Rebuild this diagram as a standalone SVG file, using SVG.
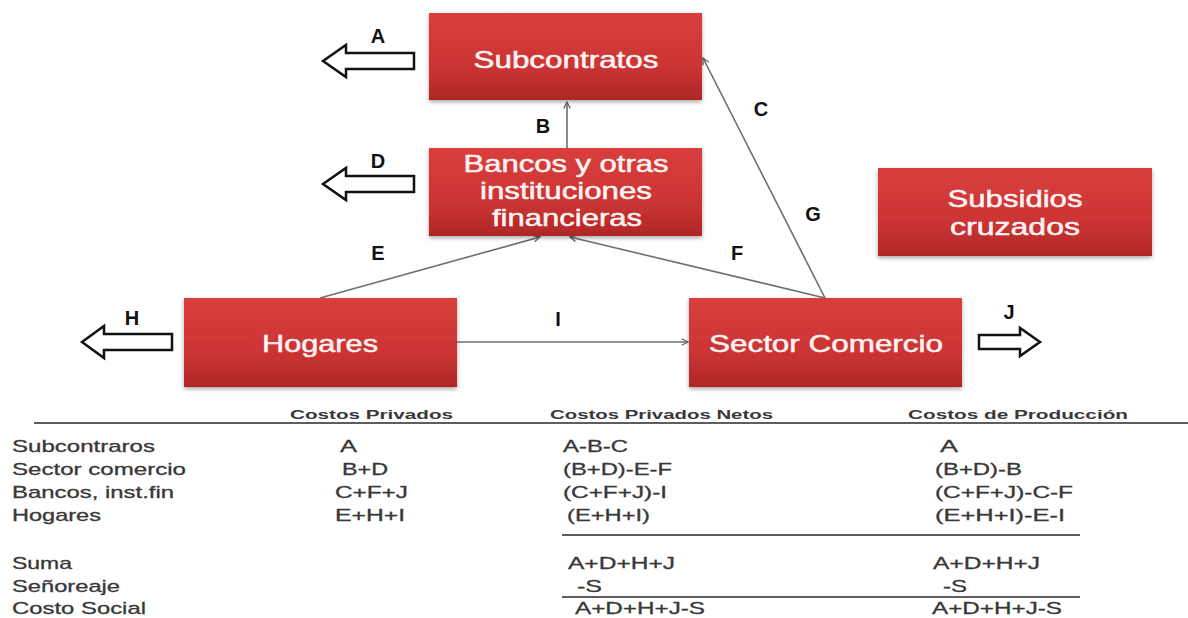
<svg xmlns="http://www.w3.org/2000/svg" width="1188" height="618" viewBox="0 0 1188 618">
<defs>
<linearGradient id="red" x1="0" y1="0" x2="0" y2="1">
<stop offset="0" stop-color="#d83f3e"/>
<stop offset="0.6" stop-color="#cc3434"/>
<stop offset="1" stop-color="#b02726"/>
</linearGradient>
<filter id="sh" x="-10%" y="-10%" width="120%" height="130%">
<feGaussianBlur in="SourceAlpha" stdDeviation="2"/>
<feOffset dx="0" dy="2" result="b"/>
<feComponentTransfer><feFuncA type="linear" slope="0.35"/></feComponentTransfer>
<feMerge><feMergeNode/><feMergeNode in="SourceGraphic"/></feMerge>
</filter>
<marker id="ah" viewBox="0 0 10 10" refX="9" refY="5" markerWidth="8" markerHeight="8" orient="auto" markerUnits="userSpaceOnUse">
<path d="M1,1 L9,5 L1,9" fill="none" stroke="#666" stroke-width="1.6"/>
</marker>
</defs>
<style>
.box{fill:url(#red);filter:url(#sh)}
.bt{font-family:"Liberation Sans",Arial,sans-serif;font-size:24px;fill:#fff3f2;stroke:#fff3f2;stroke-width:0.5;text-anchor:middle}
.lbl{font-family:"Liberation Sans",Arial,sans-serif;font-size:20px;font-weight:bold;fill:#111}
.conn{stroke:#6e6e6e;stroke-width:1.6;fill:none;marker-end:url(#ah)}
.big{fill:#fff;stroke:#111;stroke-width:2.5;stroke-linejoin:miter}
.t{font-family:"Liberation Sans",Arial,sans-serif;font-size:17px;fill:#383838;stroke:#383838;stroke-width:0.3}
.h{font-family:"Liberation Sans",Arial,sans-serif;font-size:13px;font-weight:bold;fill:#383838}
.rule{stroke:#5e5e5e;stroke-width:2}
</style>
<rect width="1188" height="618" fill="#fff"/>

<g id="connectors">
<line class="conn" x1="567" y1="148" x2="567" y2="102"/>
<line class="conn" x1="320" y1="298" x2="540" y2="237"/>
<line class="conn" x1="825" y1="298" x2="570" y2="237"/>
<line class="conn" x1="825" y1="298" x2="703" y2="58"/>
<line class="conn" x1="457" y1="342" x2="688" y2="342"/>
</g>

<g id="outflows">
<polygon class="big" points="323,61 346,45 346,53 414,53 414,69 346,69 346,77"/>
<polygon class="big" points="323,184 346,168 346,176 414,176 414,192 346,192 346,200"/>
<polygon class="big" points="82,342 104,326 104,334 172,334 172,350 104,350 104,358"/>
<polygon class="big" points="1040,342 1020,328 1020,335 979,335 979,349 1020,349 1020,356"/>
</g>

<g id="labels">
<text class="lbl" x="378" y="43" text-anchor="middle">A</text>
<text class="lbl" x="543" y="133" text-anchor="middle">B</text>
<text class="lbl" x="761" y="116" text-anchor="middle">C</text>
<text class="lbl" x="378" y="168" text-anchor="middle">D</text>
<text class="lbl" x="378" y="260" text-anchor="middle">E</text>
<text class="lbl" x="737" y="260" text-anchor="middle">F</text>
<text class="lbl" x="813" y="221" text-anchor="middle">G</text>
<text class="lbl" x="132" y="325" text-anchor="middle">H</text>
<text class="lbl" x="558" y="326" text-anchor="middle">I</text>
<text class="lbl" x="1009" y="319" text-anchor="middle">J</text>
</g>

<g id="subcontratos">
<rect class="box" x="429" y="13" width="273" height="87"/>
<text class="bt" x="566" y="68" textLength="185" lengthAdjust="spacingAndGlyphs">Subcontratos</text>
</g>
<g id="bancos">
<rect class="box" x="429" y="148" width="273" height="88"/>
<text class="bt" x="566" y="172" textLength="205" lengthAdjust="spacingAndGlyphs">Bancos y otras</text>
<text class="bt" x="566" y="199" textLength="172" lengthAdjust="spacingAndGlyphs">instituciones</text>
<text class="bt" x="567" y="226" textLength="150" lengthAdjust="spacingAndGlyphs">financieras</text>
</g>
<g id="subsidios">
<rect class="box" x="878" y="168" width="274" height="88"/>
<text class="bt" x="1015" y="207" textLength="135" lengthAdjust="spacingAndGlyphs">Subsidios</text>
<text class="bt" x="1015" y="235" textLength="130" lengthAdjust="spacingAndGlyphs">cruzados</text>
</g>
<g id="hogares">
<rect class="box" x="184" y="298" width="273" height="89"/>
<text class="bt" x="320" y="352" textLength="116" lengthAdjust="spacingAndGlyphs">Hogares</text>
</g>
<g id="sector-comercio">
<rect class="box" x="689" y="298" width="273" height="89"/>
<text class="bt" x="826" y="352" textLength="234" lengthAdjust="spacingAndGlyphs">Sector Comercio</text>
</g>

<g id="table">
<line class="rule" x1="34" y1="423" x2="1188" y2="423"/>
<line class="rule" x1="562" y1="535" x2="1080" y2="535"/>
<line class="rule" x1="562" y1="597" x2="1080" y2="597"/>
<text class="h" x="290" y="419" textLength="163" lengthAdjust="spacingAndGlyphs">Costos Privados</text>
<text class="h" x="550" y="419" textLength="223" lengthAdjust="spacingAndGlyphs">Costos Privados Netos</text>
<text class="h" x="908" y="419" textLength="220" lengthAdjust="spacingAndGlyphs">Costos de Producción</text>

<text class="t" x="12" y="452" textLength="143" lengthAdjust="spacingAndGlyphs">Subcontraros</text>
<text class="t" x="12" y="475" textLength="174" lengthAdjust="spacingAndGlyphs">Sector comercio</text>
<text class="t" x="12" y="498" textLength="162" lengthAdjust="spacingAndGlyphs">Bancos, inst.fin</text>
<text class="t" x="12" y="521" textLength="89" lengthAdjust="spacingAndGlyphs">Hogares</text>
<text class="t" x="12" y="569" textLength="60" lengthAdjust="spacingAndGlyphs">Suma</text>
<text class="t" x="12" y="592" textLength="108" lengthAdjust="spacingAndGlyphs">Señoreaje</text>
<text class="t" x="12" y="614" textLength="134" lengthAdjust="spacingAndGlyphs">Costo Social</text>

<text class="t" x="340" y="452" textLength="17" lengthAdjust="spacingAndGlyphs">A</text>
<text class="t" x="342" y="475" textLength="46" lengthAdjust="spacingAndGlyphs">B+D</text>
<text class="t" x="335" y="498" textLength="73" lengthAdjust="spacingAndGlyphs">C+F+J</text>
<text class="t" x="335" y="521" textLength="70" lengthAdjust="spacingAndGlyphs">E+H+I</text>

<text class="t" x="563" y="452" textLength="65" lengthAdjust="spacingAndGlyphs">A-B-C</text>
<text class="t" x="563" y="475" textLength="109" lengthAdjust="spacingAndGlyphs">(B+D)-E-F</text>
<text class="t" x="563" y="498" textLength="104" lengthAdjust="spacingAndGlyphs">(C+F+J)-I</text>
<text class="t" x="567" y="521" textLength="83" lengthAdjust="spacingAndGlyphs">(E+H+I)</text>
<text class="t" x="568" y="569" textLength="107" lengthAdjust="spacingAndGlyphs">A+D+H+J</text>
<text class="t" x="577" y="592" textLength="25" lengthAdjust="spacingAndGlyphs">-S</text>
<text class="t" x="575" y="614" textLength="130" lengthAdjust="spacingAndGlyphs">A+D+H+J-S</text>

<text class="t" x="940" y="452" textLength="18" lengthAdjust="spacingAndGlyphs">A</text>
<text class="t" x="935" y="475" textLength="87" lengthAdjust="spacingAndGlyphs">(B+D)-B</text>
<text class="t" x="935" y="498" textLength="138" lengthAdjust="spacingAndGlyphs">(C+F+J)-C-F</text>
<text class="t" x="935" y="521" textLength="130" lengthAdjust="spacingAndGlyphs">(E+H+I)-E-I</text>
<text class="t" x="933" y="569" textLength="107" lengthAdjust="spacingAndGlyphs">A+D+H+J</text>
<text class="t" x="943" y="592" textLength="24" lengthAdjust="spacingAndGlyphs">-S</text>
<text class="t" x="932" y="614" textLength="130" lengthAdjust="spacingAndGlyphs">A+D+H+J-S</text>
</g>
</svg>
